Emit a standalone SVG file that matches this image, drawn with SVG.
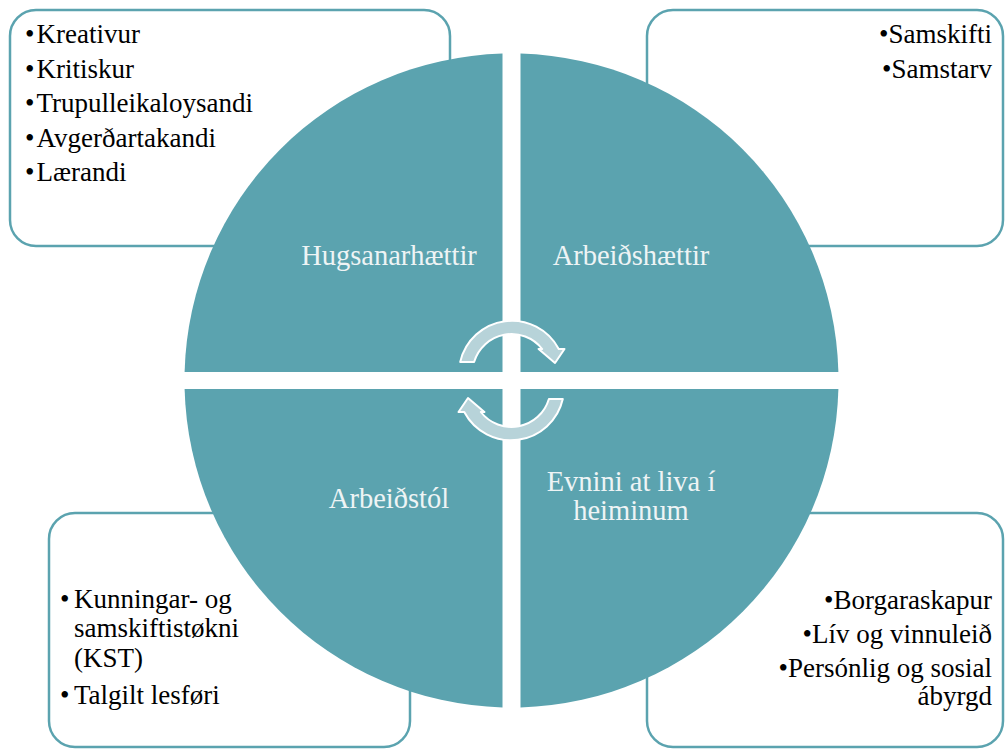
<svg xmlns="http://www.w3.org/2000/svg" width="1005" height="749" viewBox="0 0 1005 749" font-family="Liberation Serif, Times New Roman, DejaVu Serif, serif">
<style>
.box{fill:#fff;stroke:#5ba3af;stroke-width:2.5}
.q{fill:#5ba3af}
.t{font-size:27px;fill:#000}
.r{text-anchor:end}
.lab{font-size:28.5px;fill:#eef4f5;text-anchor:middle}
.arr{fill:#b7d3d9;stroke:#fff;stroke-width:2;stroke-linejoin:round}
</style>
<defs>
<path id="carrow" d="M460.2,362 A53,53 0 0 1 558.75,349 L564.5,349 L555,363 L538.6,349 L542.2,349 A39,39 0 0 0 474.1,362 Z"/>
</defs>
<rect width="1005" height="749" fill="#fff"/>
<g id="box-tl">
<rect class="box" x="10" y="10" width="440" height="236" rx="26"/>
<text class="t" x="25" y="43">•</text><text class="t" x="36.5" y="43">Kreativur</text>
<text class="t" x="25" y="77.7">•</text><text class="t" x="36.5" y="77.7">Kritiskur</text>
<text class="t" x="25" y="111.7">•</text><text class="t" x="36.5" y="111.7">Trupulleikaloysandi</text>
<text class="t" x="25" y="146.5">•</text><text class="t" x="36.5" y="146.5">Avgerðartakandi</text>
<text class="t" x="25" y="181">•</text><text class="t" x="36.5" y="181">Lærandi</text>
</g>
<g id="box-tr">
<rect class="box" x="647" y="10" width="356" height="236" rx="26"/>
<text class="t r" x="992" y="43">•Samskifti</text>
<text class="t r" x="992" y="77.7">•Samstarv</text>
</g>
<g id="box-bl">
<rect class="box" x="49" y="513" width="361" height="234" rx="26"/>
<text class="t" x="60" y="608">•</text><text class="t" x="74" y="608">Kunningar- og</text>
<text class="t" x="74" y="637">samskiftistøkni</text>
<text class="t" x="74" y="666.5">(KST)</text>
<text class="t" x="60" y="704">•</text><text class="t" x="74" y="704">Talgilt lesføri</text>
</g>
<g id="box-br">
<rect class="box" x="647" y="513" width="356" height="234" rx="26"/>
<text class="t r" x="992" y="608.5">•Borgaraskapur</text>
<text class="t r" x="992" y="643">•Lív og vinnuleið</text>
<text class="t r" x="992" y="676.5">•Persónlig og sosial</text>
<text class="t r" x="992" y="704.5">ábyrgd</text>
</g>
<g id="q-hugsanarhaettir">
<path class="q" d="M502.5,372 V53.6 A327,327 0 0 0 184.6,372 Z"/>
<text class="lab" x="389" y="264.5">Hugsanarhættir</text>
</g>
<g id="q-arbeidshaettir">
<path class="q" d="M520.5,372 V53.6 A327,327 0 0 1 838.4,372 Z"/>
<text class="lab" x="631" y="264.5">Arbeiðshættir</text>
</g>
<g id="q-arbeidstol">
<path class="q" d="M502.5,389 V707.4 A327,327 0 0 1 184.6,389 Z"/>
<text class="lab" x="389" y="507.5">Arbeiðstól</text>
</g>
<g id="q-evnini">
<path class="q" d="M520.5,389 V707.4 A327,327 0 0 0 838.4,389 Z"/>
<text class="lab" x="631" y="491">Evnini at liva í</text>
<text class="lab" x="631" y="519.6">heiminum</text>
</g>
<g id="connectors">
<use href="#carrow" class="arr"/>
<use href="#carrow" class="arr" transform="rotate(180 511.5 380.5)"/>
</g>
</svg>
